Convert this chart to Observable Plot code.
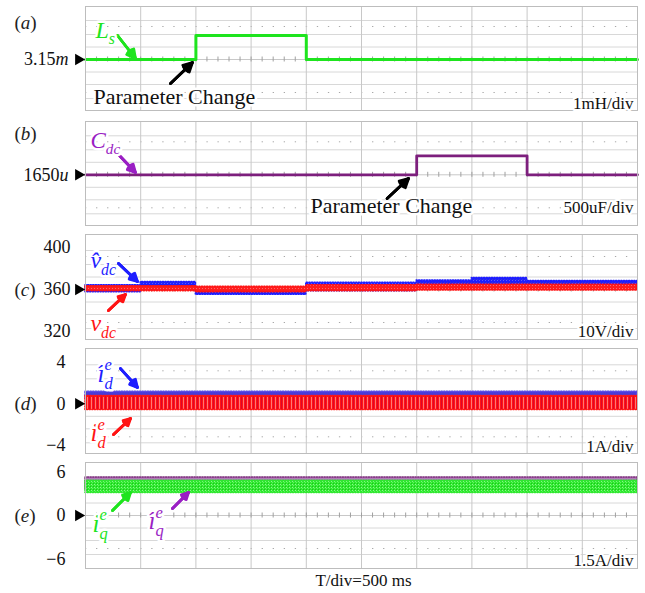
<!DOCTYPE html>
<html>
<head>
<meta charset="utf-8">
<script src="https://cdn.jsdelivr.net/npm/d3@7"></script>
<script src="https://cdn.jsdelivr.net/npm/@observablehq/plot@0.6"></script>
<style>
  html, body { margin: 0; padding: 0; background: #fff; overflow: hidden; }
  #chart { width: 645px; }
  #chart svg { display: block; }
  .caption { width: 645px; height: 21px; margin: 0; padding-left: 82px; box-sizing: border-box;
    font: 17px/17px "Liberation Serif", serif; text-align: center; color: #111; }
</style>
</head>
<body>
<svg width="0" height="0" style="position:absolute">
  <defs>
    <pattern id="texRed" patternUnits="userSpaceOnUse" width="4" height="22">
      <rect width="4" height="22" fill="#ff1414"/>
      <rect x="1" y="0" width="0.8" height="22" fill="#d8002c"/>
      <rect x="3" y="9" width="0.8" height="13" fill="#ff8f8f"/>
    </pattern>
    <pattern id="texRedC" patternUnits="userSpaceOnUse" width="3" height="3">
      <rect width="3" height="3" fill="#ff1e1e"/>
      <rect x="1" y="1" width="1" height="1" fill="#ff6a6a"/>
    </pattern>
    <pattern id="texBlue" patternUnits="userSpaceOnUse" width="3" height="3">
      <rect width="3" height="3" fill="#1e1eff"/>
      <rect x="0" y="1" width="1" height="1" fill="#3a3ad0"/>
      <rect x="2" y="2" width="1" height="1" fill="#5a5aff"/>
    </pattern>
    <pattern id="texGreen" patternUnits="userSpaceOnUse" width="3" height="3">
      <rect width="3" height="3" fill="#2ee82e"/>
      <rect x="1" y="0" width="1" height="1" fill="#8ef58e"/>
      <rect x="0" y="2" width="1" height="1" fill="#18c818"/>
      <rect x="2" y="1" width="1" height="1" fill="#62f062"/>
    </pattern>
  </defs>
</svg>
<div id="chart"></div>
<script>
// ---------- data (time in ms, 500 ms per division) ----------
const tEnd = 5000;
const divTimes = [0, 500, 1000, 1500, 2000, 2500, 3000, 3500, 4000, 4500, 5000];

// (a) grid inductance L_s (mH)
const lsTimes = [0, 1000, 2000, 5000];
const lsValues = [3.15, 5.15, 3.15, 3.15];

// (b) dc-link capacitance C_dc (uF)
const cdcTimes = [0, 3000, 4000, 5000];
const cdcValues = [1650, 2650, 1650, 1650];

// (c) dc-link voltage (V): estimated v̂_dc (blue) and measured v_dc (red) envelopes
const vdcTimes   = [0, 500, 1000, 2000, 3000, 3500, 4000, 5000];
const vdcHatLow  = [357.5, 361, 355, 358.5, 361.5, 363.5, 361.5, 361.5];
const vdcHatHigh = [364, 367, 361, 366.5, 368.5, 371, 368, 368];
const vdcLow     = [358.5, 358.5, 357.5, 358.5, 359, 359, 359, 359];
const vdcHigh    = [363, 363, 362.5, 364, 364.5, 364.5, 364.5, 364.5];

// (d) d-axis current (A): estimated (blue) and measured (red) envelopes
const idTimes   = [0, 5000];
const idHatLow  = [0.4, 0.4];
const idHatHigh = [1.15, 1.15];
const idLow     = [-0.6, -0.6];
const idHigh    = [0.75, 0.75];

// (e) q-axis current (A): estimated (purple) and measured (green) envelopes
const iqTimes   = [0, 5000];
const iqHatLow  = [3.6, 3.6];
const iqHatHigh = [5.2, 5.2];
const iqLow     = [3.1, 3.1];
const iqHigh    = [4.75, 4.75];

// tick labels on the left
const ticksA = [{v: 3.15, text: "3.15<i>m</i>"}];
const ticksB = [{v: 1650, text: "1650<i>u</i>"}];
const ticksC = [{v: 400, text: "400"}, {v: 360, text: "360"}, {v: 320, text: "320"}];
const ticksD = [{v: 4, text: "4"}, {v: 0, text: "0"}, {v: -4, text: "\u22124"}];
const ticksE = [{v: 6, text: "6"}, {v: 0, text: "0"}, {v: -6, text: "\u22126"}];

// panel titles and scale texts
const panelNames = ["(<i>a</i>)", "(<i>b</i>)", "(<i>c</i>)", "(<i>d</i>)", "(<i>e</i>)"];
const scaleTexts = ["1mH/div", "500uF/div", "10V/div", "1A/div", "1.5A/div"];
const captionText = "T/div=500 ms";

// annotations (data coordinates)
const notesA  = [{t: 90, v: 5.6, text: "<i>L<sub>s</sub></i>"}];
const changeA = [{t: 72, v: 0.02, text: "Parameter Change"}];
const arrowLs = [{t1: 290, v1: 5.15, t2: 453, v2: 3.23}];
const arrowChA = [{t1: 770, v1: 1.15, t2: 969, v2: 2.9}];

const notesB  = [{t: 45, v: 3455, text: "<i>C<sub>dc</sub></i>"}];
const changeB = [{t: 2038, v: 34, text: "Parameter Change"}];
const arrowCdc = [{t1: 290, v1: 2771, t2: 453, v2: 1771}];
const arrowChB = [{t1: 2732, v1: 403, t2: 2926, v2: 1455}];

const notesCHat = [{t: 45, v: 387.9, text: "<i>v\u0302<sub>dc</sub></i>"}];
const notesC    = [{t: 45, v: 327.6, text: "<i>v<sub>dc</sub></i>"}];
const arrowCHat = [{t1: 299, v1: 384.8, t2: 471, v2: 367.6}];
const arrowC    = [{t1: 208, v1: 340, t2: 362, v2: 355.2}];

const notesDHat = [{t: 109, v: 2.9, text: "<i>\u00ee<sub>d</sub><sup stack='1'>e</sup></i>"}];
const notesD    = [{t: 45, v: -2.85, text: "<i>i<sub>d</sub><sup stack='1'>e</sup></i>"}];
const arrowDHat = [{t1: 317, v1: 3.39, t2: 471, v2: 1.57}];
const arrowD    = [{t1: 254, v1: -2.95, t2: 408, v2: -1.41}];

const notesE    = [{t: 63, v: -1.1, text: "<i>i<sub>q</sub><sup stack='1'>e</sup></i>"}];
const notesEHat = [{t: 571, v: -0.82, text: "<i>\u00ee<sub>q</sub><sup stack='1'>e</sup></i>"}];
const arrowE    = [{t1: 245, v1: 0.69, t2: 408, v2: 3.16}];
const arrowEHat = [{t1: 788, v1: 0.96, t2: 933, v2: 3.16}];

// ---------- helpers ----------
const zipLine = (ts, vs) => ts.map((t, i) => ({t, v: vs[i]}));
const zipBand = (ts, lo, hi) => ts.map((t, i) => ({t, lo: lo[i], hi: hi[i]}));

const GREEN = "#1ee41e", PURPLE = "#7d1f7d", PURPLE_L = "#9a1fc4", BLUE = "#1e1eff", RED = "#ff1414";

function textNote(data, fill, size) {
  return Plot.text(data, {x: "t", y: "v", text: "text", textAnchor: "start", fill, fontSize: size,
    stroke: "white", strokeWidth: 5});
}
// arrow with a (nearly) filled head: several heads of decreasing angle share the tip
function arrow(data, stroke) {
  return [56, 38, 20].map(a => Plot.arrow(data, {x1: "t1", y1: "v1", x2: "t2", y2: "v2", stroke, strokeWidth: 2.7,
    headLength: 9, headAngle: a, strokeLinejoin: "miter"}));
}
function band(data, fill, stroke, opts = {}) {
  return Plot.areaY(data, {x: "t", y1: "lo", y2: "hi", curve: "step-after", fill, stroke, strokeWidth: 1.6,
    strokeDasharray: "1 1.6", ...opts});
}

function panel(o) {
  const {height, mt, mb, center, k, idx} = o;
  const plotH = height - mt - mb;
  const top = center + o.above / k;
  const domain = [top - plotH / k, top];
  const hLines = [12.5, 25, 39].flatMap(p => [center + p / k, center - p / k]);
  const dotRows = [center + 33 / k, center - 33 / k];
  const minor = d3.range(0, tEnd + 1, 100);
  const marks = [
    Plot.ruleY(hLines, {stroke: "#d8d8d8"}),
    Plot.ruleY(dotRows, {stroke: "#a8a8a8", strokeDasharray: "1.3 9.74"}),
    Plot.gridX(divTimes, {stroke: "#c8c8c8", strokeOpacity: 1}),
    Plot.ruleY([center], {stroke: "#c8c8c8"}),
    Plot.ruleX(minor, {x: d => d, y1: center - 2.5 / k, y2: center + 2.5 / k, stroke: "#a0a0a0"}),
    ...o.marks.flat(),
    Plot.frame({stroke: "#bdbdbd"}),
    // tick labels + pointer
    Plot.text(o.ticks, {y: "v", text: "text", frameAnchor: "left", textAnchor: "end", dx: o.tickDx, fontSize: 18, fill: "#111"}),
    Plot.dot(o.ticks.filter(d => d.v === center), {y: "v", frameAnchor: "left", dx: -7, symbol: "triangle", r: 4.3,
      rotate: 90, fill: "#000", stroke: null}),
    Plot.text([panelNames[idx]], {y: () => o.nameV, text: d => d, frameAnchor: "left", textAnchor: "start", dx: -71, fontSize: 19, fill: "#222"}),
    Plot.text([scaleTexts[idx]], {text: d => d, frameAnchor: "bottom-right", dx: -4, dy: o.scaleDy, fontSize: 17, fill: "#111",
      stroke: "white", strokeWidth: 4})
  ];
  return Plot.plot({
    width: 645, height, marginLeft: 85, marginRight: 8, marginTop: mt, marginBottom: mb,
    x: {domain: [0, tEnd], axis: null},
    y: {domain, axis: null},
    style: {fontFamily: "'Liberation Serif', serif", background: "white", overflow: "visible"},
    marks
  });
}

function richify(root) {
  const NS = "http://www.w3.org/2000/svg";
  root.querySelectorAll("text").forEach(t => {
    const s = t.textContent;
    if (!s.includes("<")) return;
    const doc = new DOMParser().parseFromString("<r>" + s + "</r>", "application/xml");
    const fs = parseFloat(getComputedStyle(t).fontSize) || 16;
    t.textContent = "";
    let cur = 0, prev = null;
    function walk(node, st) {
      node.childNodes.forEach(n => {
        if (n.nodeType === 3) {
          const ts = document.createElementNS(NS, "tspan");
          ts.textContent = n.nodeValue;
          if (st.italic) ts.setAttribute("font-style", "italic");
          ts.setAttribute("font-size", (st.size * fs).toFixed(2));
          const target = st.shift * fs;
          const dy = target - cur;
          if (Math.abs(dy) > 0.01) ts.setAttribute("dy", dy.toFixed(2));
          cur = target;
          if (st.stack && prev) ts.setAttribute("dx", (-prev.getComputedTextLength()).toFixed(2));
          t.appendChild(ts);
          prev = ts;
        } else if (n.nodeType === 1) {
          const c = {...st, stack: false};
          const tag = n.nodeName;
          if (tag === "i") c.italic = true;
          if (tag === "sub") { c.size = st.size * 0.66; c.shift = st.shift + 0.28; }
          if (tag === "sup") { c.size = st.size * 0.66; c.shift = st.shift - 0.45; }
          if (n.getAttribute("stack")) c.stack = true;
          walk(n, c);
        }
      });
    }
    walk(doc.documentElement, {italic: false, size: 1, shift: 0, stack: false});
  });
}

// ---------- panels ----------
const chart = document.getElementById("chart");

const pA = panel({idx: 0, height: 116, mt: 6, mb: 6, center: 3.15, k: 12, above: 53, tickDx: -17, nameV: 6.23, scaleDy: -2,
  ticks: ticksA,
  marks: [
    Plot.line(zipLine(lsTimes, lsValues), {x: "t", y: "v", curve: "step-after", stroke: GREEN, strokeWidth: 3}),
    arrow(arrowLs, GREEN),
    arrow(arrowChA, "#000"),
    textNote(notesA, GREEN, 24),
    textNote(changeA, "#111", 22)
  ]});

const pB = panel({idx: 1, height: 114, mt: 5, mb: 5, center: 1650, k: 0.019, above: 53.3, tickDx: -17, nameV: 3824, scaleDy: -13,
  ticks: ticksB,
  marks: [
    Plot.line(zipLine(cdcTimes, cdcValues), {x: "t", y: "v", curve: "step-after", stroke: PURPLE, strokeWidth: 2.8}),
    arrow(arrowCdc, PURPLE_L),
    arrow(arrowChB, "#000"),
    textNote(notesB, PURPLE_L, 23),
    textNote(changeB, "#111", 22)
  ]});

const pC = panel({idx: 2, height: 114, mt: 4, mb: 5, center: 360, k: 1.05, above: 55, tickDx: -15, nameV: 360, scaleDy: -3,
  ticks: ticksC,
  marks: [
    band(zipBand(vdcTimes, vdcHatLow, vdcHatHigh), "url(#texBlue)", BLUE),
    band(zipBand(vdcTimes, vdcLow, vdcHigh), "url(#texRedC)", RED),
    arrow(arrowCHat, BLUE),
    arrow(arrowC, RED),
    textNote(notesCHat, BLUE, 24),
    textNote(notesC, RED, 24)
  ]});

const pD = panel({idx: 3, height: 113, mt: 4, mb: 4, center: 0, k: 10.4, above: 55.3, tickDx: -20, nameV: 0, scaleDy: -2,
  ticks: ticksD,
  marks: [
    band(zipBand(idTimes, idHatLow, idHatHigh), "#4a3ad8", "#5a4ae8", {curve: "linear"}),
    band(zipBand(idTimes, idLow, idHigh), "url(#texRed)", RED, {curve: "linear"}),
    arrow(arrowDHat, BLUE),
    arrow(arrowD, RED),
    textNote(notesDHat, BLUE, 25),
    textNote(notesD, RED, 25)
  ]});

const pE = panel({idx: 4, height: 115, mt: 5, mb: 4, center: 0, k: 7.28, above: 53, tickDx: -20, nameV: 0, scaleDy: -3,
  ticks: ticksE,
  marks: [
    band(zipBand(iqTimes, iqHatLow, iqHatHigh), "#b07ab8", "#8a3a8a", {curve: "linear"}),
    band(zipBand(iqTimes, iqLow, iqHigh), "url(#texGreen)", "#2ee82e", {curve: "linear"}),
    arrow(arrowE, GREEN),
    arrow(arrowEHat, PURPLE_L),
    textNote(notesE, GREEN, 25),
    textNote(notesEHat, PURPLE_L, 25)
  ]});

[pA, pB, pC, pD, pE].forEach(p => chart.appendChild(p));
const cap = document.createElement("div");
cap.className = "caption";
cap.textContent = captionText;
chart.appendChild(cap);
richify(chart);
</script>
</body>
</html>
